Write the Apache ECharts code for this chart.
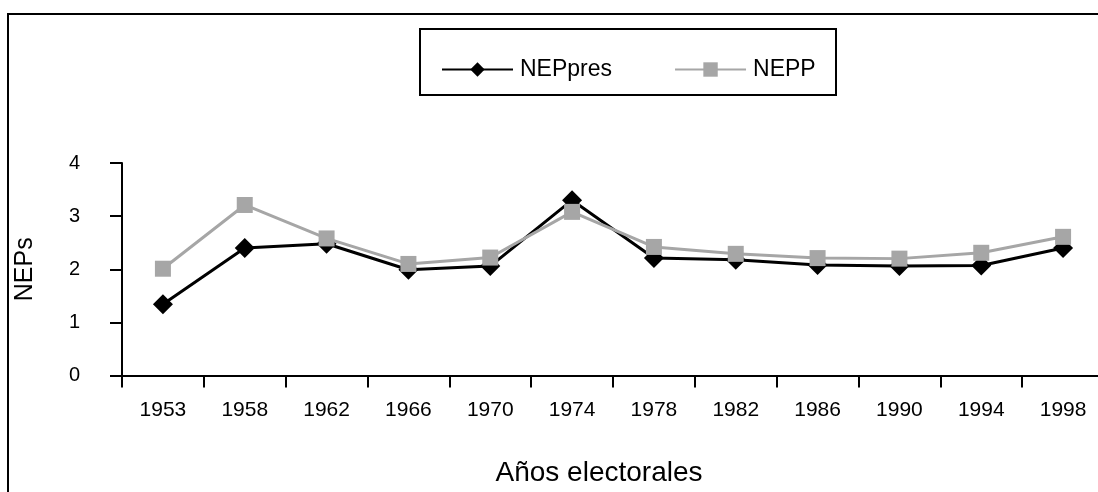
<!DOCTYPE html>
<html>
<head>
<meta charset="utf-8">
<script src="https://cdn.jsdelivr.net/npm/echarts@6/dist/echarts.min.js"></script>
<style>
html, body { margin: 0; padding: 0; background: #fff; }
#chart { width: 1098px; height: 492px; }
</style>
</head>
<body>
<div id="chart"></div>
<script>
var years = ['1953', '1958', '1962', '1966', '1970', '1974', '1978', '1982', '1986', '1990', '1994', '1998'];
var nepPres = [1.34, 2.40, 2.48, 1.99, 2.06, 3.30, 2.21, 2.18, 2.08, 2.06, 2.07, 2.40];
var nepp = [2.01, 3.21, 2.58, 2.10, 2.22, 3.08, 2.42, 2.29, 2.21, 2.20, 2.31, 2.61];
var yTicks = [0, 1, 2, 3, 4];

var myChart = echarts.init(document.getElementById('chart'));
var font = 'Liberation Sans, Arial, sans-serif';

option = {
	animation: false,
	backgroundColor: '#fff',
	graphic: [
		{ // marco exterior
			type: 'rect',
			shape: { x: 8, y: 14, width: 1200, height: 600 },
			style: { fill: 'none', stroke: '#000', lineWidth: 2 }
		},
		{ // caja de la leyenda
			type: 'rect',
			shape: { x: 420, y: 29, width: 416, height: 66 },
			style: { fill: 'none', stroke: '#000', lineWidth: 2 }
		}
	],
	legend: {
		left: 436,
		top: 53,
		itemWidth: 71,
		itemHeight: 18,
		itemGap: 62,
		textStyle: { fontFamily: font, fontSize: 23, color: '#000', padding: [0, 0, 0, 2] },
		data: ['NEPpres', 'NEPP']
	},
	grid: {
		left: 122,
		top: 163,
		width: 982,
		height: 212.5,
		outerBoundsMode: 'none',
		containLabel: false
	},
	xAxis: {
		type: 'category',
		data: years,
		boundaryGap: true,
		name: 'Años electorales',
		nameLocation: 'middle',
		nameGap: 84,
		nameTextStyle: { fontFamily: font, fontSize: 28, color: '#000', padding: [0, 28, 0, 0] },
		axisLine: { lineStyle: { color: '#000', width: 2 } },
		axisTick: { show: true, length: 12, lineStyle: { color: '#000', width: 2 } },
		axisLabel: { fontFamily: font, fontSize: 21, color: '#000', margin: 24 },
		splitLine: { show: false }
	},
	yAxis: {
		type: 'value',
		min: 0,
		max: 4,
		interval: 1,
		name: 'NEPs',
		nameLocation: 'middle',
		nameGap: 84,
		nameTextStyle: { fontFamily: font, fontSize: 25, color: '#000' },
		axisLine: { show: true, lineStyle: { color: '#000', width: 2 } },
		axisTick: { show: true, length: 12, lineStyle: { color: '#000', width: 2 } },
		axisLabel: {
			fontFamily: font, fontSize: 20, color: '#000', margin: 42,
			formatter: function (v) { return yTicks.indexOf(v) >= 0 ? String(v) : ''; }
		},
		splitLine: { show: false }
	},
	series: [
		{
			name: 'NEPP',
			type: 'line',
			data: nepp,
			symbol: 'rect',
			symbolSize: 16,
			lineStyle: { color: '#a6a6a6', width: 3 },
			itemStyle: { color: '#a6a6a6' },
			z: 2
		},
		{
			name: 'NEPpres',
			type: 'line',
			data: nepPres,
			symbol: 'diamond',
			symbolSize: 20,
			lineStyle: { color: '#000', width: 3 },
			itemStyle: { color: '#000' },
			z: 1
		}
	]
};
myChart.setOption(option, true);
</script>
</body>
</html>
